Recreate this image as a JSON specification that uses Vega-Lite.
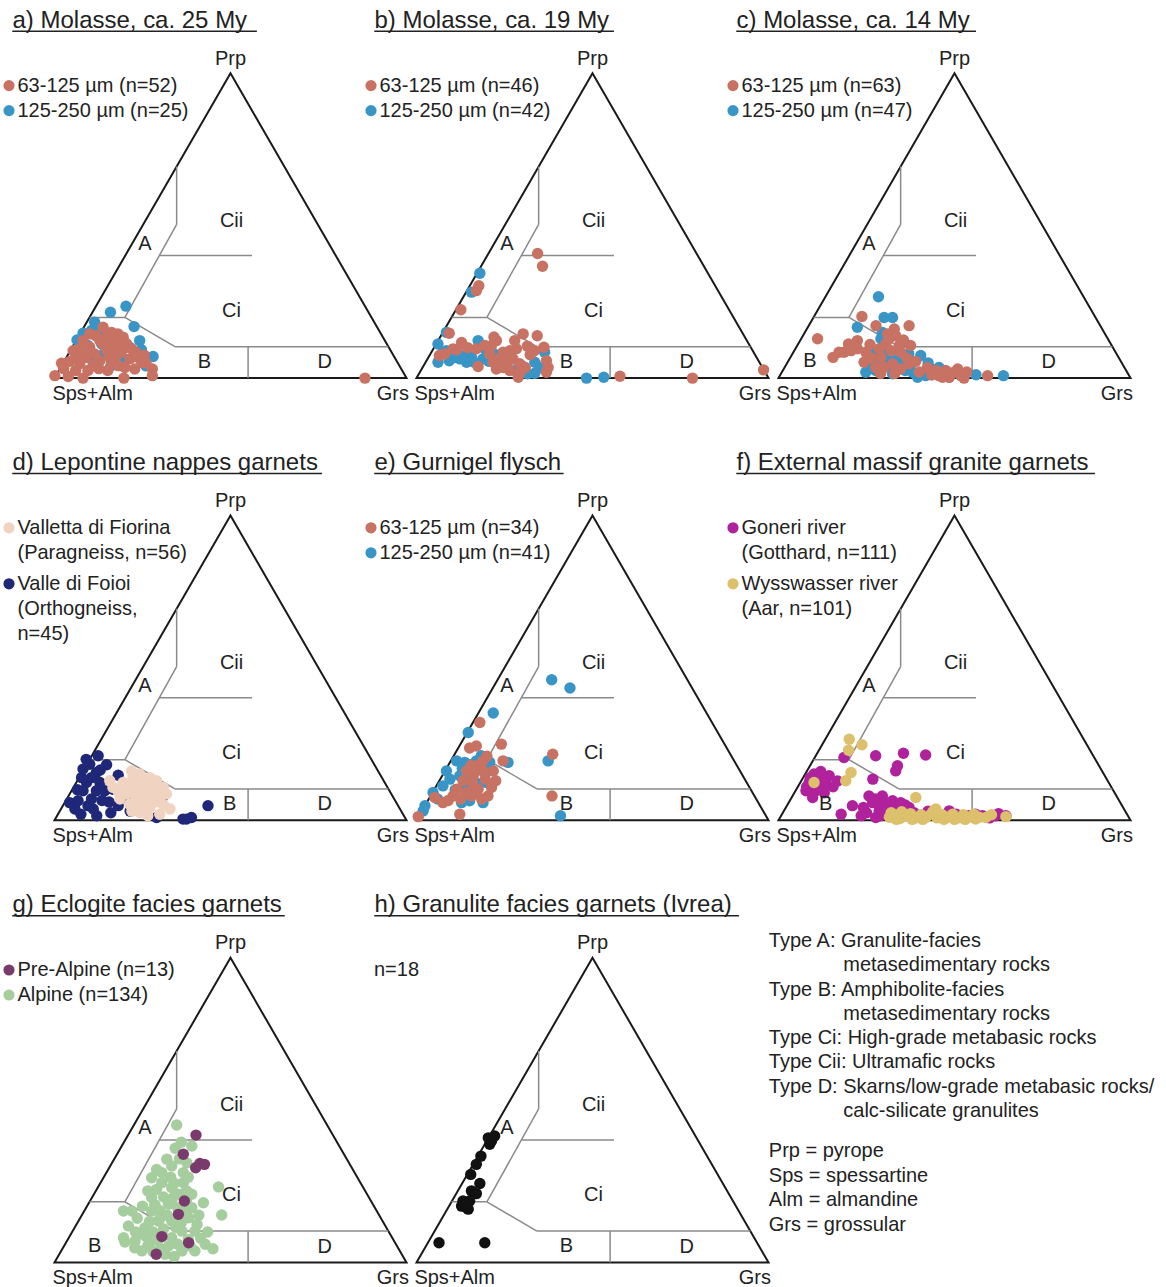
{
  "$schema": "https://vega.github.io/schema/vega-lite/v6.json",
  "padding": {"left": 2.5, "top": 8.3, "right": 2, "bottom": 2},
  "columns": 3,
  "spacing": {"row": 137.2, "column": 10},
  "bounds": "flush",
  "resolve": {"scale": {"color": "independent"}, "legend": {"color": "independent"}},
  "config": {
    "font": "Liberation Sans",
    "view": {"stroke": null},
    "style": {"guide-label": {"lineHeight": 25}},
    "title": {"anchor": "start", "frame": "group", "dx": -42, "offset": -2.4, "fontSize": 24, "fontWeight": "normal", "color": "#222222", "baseline": "alphabetic"},
    "legend": {"labelFontSize": 20, "labelColor": "#222222", "symbolType": "circle", "symbolSize": 125, "symbolStrokeWidth": 0, "symbolOffset": -3.5, "labelOffset": -1.5, "rowPadding": 5, "padding": 0, "labelLimit": 600}
  },
  "datasets": {
    "tri": [{"o": 0, "x": 0, "y": 0}, {"o": 1, "x": 50, "y": 100}, {"o": 2, "x": 100, "y": 0}, {"o": 3, "x": 0, "y": 0}, {"o": 4, "x": 50, "y": 100}],
    "fields": [
      {"x": 34.7, "y": 69.4, "x2": 34.7, "y2": 50.4},
      {"x": 34.7, "y": 50.4, "x2": 20.0, "y2": 19.9},
      {"x": 29.8, "y": 40.2, "x2": 56.1, "y2": 40.2},
      {"x": 9.95, "y": 19.9, "x2": 20.0, "y2": 19.9},
      {"x": 20.0, "y": 19.9, "x2": 34.2, "y2": 10.3},
      {"x": 34.2, "y": 10.3, "x2": 94.85, "y2": 10.3},
      {"x": 55.0, "y": 10.3, "x2": 55.0, "y2": 0}
    ],
    "labels": [
      {"label": "Prp", "x": 50, "y": 104.7},
      {"label": "Sps+Alm", "x": 10.85, "y": -5.2},
      {"label": "Grs", "x": 96.1, "y": -5.2},
      {"label": "A", "x": 25.7, "y": 44.0},
      {"label": "Ci", "x": 50.3, "y": 22.1},
      {"label": "Cii", "x": 50.3, "y": 51.7},
      {"label": "D", "x": 76.8, "y": 5.2}
    ],
    "notes1": [
      {"line": 1, "indent": 0, "text": "Type A: Granulite-facies"},
      {"line": 2, "indent": 1, "text": "metasedimentary rocks"},
      {"line": 3, "indent": 0, "text": "Type B: Amphibolite-facies"},
      {"line": 4, "indent": 1, "text": "metasedimentary rocks"},
      {"line": 5, "indent": 0, "text": "Type Ci: High-grade metabasic rocks"},
      {"line": 6, "indent": 0, "text": "Type Cii: Ultramafic rocks"},
      {"line": 7, "indent": 0, "text": "Type D: Skarns/low-grade metabasic rocks/"},
      {"line": 8, "indent": 1, "text": "calc-silicate granulites"}
    ],
    "notes2": [
      {"line": 1, "indent": 0, "text": "Prp = pyrope"},
      {"line": 2, "indent": 0, "text": "Sps = spessartine"},
      {"line": 3, "indent": 0, "text": "Alm = almandine"},
      {"line": 4, "indent": 0, "text": "Grs = grossular"}
    ],
    "a_pts": [
      {"group": "125-250 µm", "x": 15.9, "y": 21.6}, {"group": "125-250 µm", "x": 20.3, "y": 23.6}, {"group": "125-250 µm", "x": 11.4, "y": 18.3}, {"group": "125-250 µm", "x": 22.6, "y": 16.9}, {"group": "125-250 µm", "x": 8.1, "y": 14.7}, {"group": "125-250 µm", "x": 6.4, "y": 12.5}, {"group": "125-250 µm", "x": 24.2, "y": 12.3}, {"group": "125-250 µm", "x": 24.7, "y": 9.3}, {"group": "125-250 µm", "x": 28.0, "y": 7.1}, {"group": "125-250 µm", "x": 10.5, "y": 15.6}, {"group": "125-250 µm", "x": 13.4, "y": 11.2}, {"group": "125-250 µm", "x": 12.9, "y": 15.6}, {"group": "125-250 µm", "x": 9.5, "y": 10.7}, {"group": "125-250 µm", "x": 18.6, "y": 10.7}, {"group": "125-250 µm", "x": 14.0, "y": 8.0}, {"group": "125-250 µm", "x": 17.0, "y": 12.0}, {"group": "125-250 µm", "x": 11.0, "y": 5.0}, {"group": "125-250 µm", "x": 16.0, "y": 4.0}, {"group": "125-250 µm", "x": 20.0, "y": 6.0}, {"group": "125-250 µm", "x": 9.0, "y": 7.0}, {"group": "125-250 µm", "x": 13.0, "y": 12.5}, {"group": "125-250 µm", "x": 26.0, "y": 4.0}, {"group": "125-250 µm", "x": 7.0, "y": 9.0}, {"group": "125-250 µm", "x": 21.5, "y": 10.0}, {"group": "125-250 µm", "x": 15.0, "y": 14.0},
      {"group": "63-125 µm", "x": 0.1, "y": 0.8}, {"group": "63-125 µm", "x": 3.9, "y": 0.5}, {"group": "63-125 µm", "x": 8.1, "y": 0}, {"group": "63-125 µm", "x": 19.7, "y": 0}, {"group": "63-125 µm", "x": 2.0, "y": 4.9}, {"group": "63-125 µm", "x": 4.3, "y": 5.5}, {"group": "63-125 µm", "x": 5.3, "y": 9.0}, {"group": "63-125 µm", "x": 7.2, "y": 9.6}, {"group": "63-125 µm", "x": 8.1, "y": 12.3}, {"group": "63-125 µm", "x": 9.1, "y": 6.8}, {"group": "63-125 µm", "x": 10.0, "y": 10.1}, {"group": "63-125 µm", "x": 11.4, "y": 7.9}, {"group": "63-125 µm", "x": 12.9, "y": 12.3}, {"group": "63-125 µm", "x": 13.8, "y": 16.7}, {"group": "63-125 µm", "x": 16.2, "y": 15.0}, {"group": "63-125 µm", "x": 14.8, "y": 13.4}, {"group": "63-125 µm", "x": 17.1, "y": 12.3}, {"group": "63-125 µm", "x": 18.1, "y": 11.2}, {"group": "63-125 µm", "x": 19.0, "y": 8.5}, {"group": "63-125 µm", "x": 17.6, "y": 7.4}, {"group": "63-125 µm", "x": 16.2, "y": 5.2}, {"group": "63-125 µm", "x": 18.1, "y": 4.1}, {"group": "63-125 µm", "x": 20.0, "y": 3.5}, {"group": "63-125 µm", "x": 21.4, "y": 6.3}, {"group": "63-125 µm", "x": 22.8, "y": 3.0}, {"group": "63-125 µm", "x": 23.8, "y": 6.8}, {"group": "63-125 µm", "x": 21.9, "y": 9.6}, {"group": "63-125 µm", "x": 27.8, "y": 3.0}, {"group": "63-125 µm", "x": 14.8, "y": 9.0}, {"group": "63-125 µm", "x": 12.9, "y": 5.7}, {"group": "63-125 µm", "x": 11.0, "y": 4.1}, {"group": "63-125 µm", "x": 7.2, "y": 4.7}, {"group": "63-125 µm", "x": 6.3, "y": 7.4}, {"group": "63-125 µm", "x": 10.0, "y": 14.5}, {"group": "63-125 µm", "x": 13.8, "y": 11.2}, {"group": "63-125 µm", "x": 15.7, "y": 6.8}, {"group": "63-125 µm", "x": 19.5, "y": 13.4}, {"group": "63-125 µm", "x": 16.6, "y": 9.6}, {"group": "63-125 µm", "x": 88.2, "y": 0}, {"group": "63-125 µm", "x": 11.7, "y": 13.9}, {"group": "63-125 µm", "x": 15.1, "y": 2.5}, {"group": "63-125 µm", "x": 20.5, "y": 11.3}, {"group": "63-125 µm", "x": 2.6, "y": 3.1}, {"group": "63-125 µm", "x": 9.5, "y": 2.5}, {"group": "63-125 µm", "x": 12.6, "y": 3.1}, {"group": "63-125 µm", "x": 24.8, "y": 5.1}, {"group": "63-125 µm", "x": 18.0, "y": 14.5}, {"group": "63-125 µm", "x": 23.0, "y": 8.5}, {"group": "63-125 µm", "x": 26.0, "y": 5.0}, {"group": "63-125 µm", "x": 6.0, "y": 2.5}, {"group": "63-125 µm", "x": 25.5, "y": 7.5}, {"group": "63-125 µm", "x": 15.5, "y": 11.5}, {"group": "63-125 µm", "x": 27.8, "y": 0.8}
    ],
    "b_pts": [
      {"group": "125-250 µm", "x": 18.0, "y": 34.4}, {"group": "125-250 µm", "x": 15.6, "y": 28.2}, {"group": "125-250 µm", "x": 8.5, "y": 15.0}, {"group": "125-250 µm", "x": 6.1, "y": 11.2}, {"group": "125-250 µm", "x": 6.1, "y": 5.2}, {"group": "125-250 µm", "x": 7.6, "y": 8.5}, {"group": "125-250 µm", "x": 10.9, "y": 6.8}, {"group": "125-250 µm", "x": 13.7, "y": 7.4}, {"group": "125-250 µm", "x": 17.5, "y": 12.3}, {"group": "125-250 µm", "x": 15.6, "y": 6.8}, {"group": "125-250 µm", "x": 18.9, "y": 6.3}, {"group": "125-250 µm", "x": 23.7, "y": 4.7}, {"group": "125-250 µm", "x": 25.6, "y": 3.5}, {"group": "125-250 µm", "x": 33.6, "y": 5.2}, {"group": "125-250 µm", "x": 33.6, "y": 1.6}, {"group": "125-250 µm", "x": 36.4, "y": 8.5}, {"group": "125-250 µm", "x": 48.3, "y": 0}, {"group": "125-250 µm", "x": 53.2, "y": 0.3}, {"group": "125-250 µm", "x": 12.3, "y": 6.3}, {"group": "125-250 µm", "x": 9.3, "y": 5.7}, {"group": "125-250 µm", "x": 8.5, "y": 9.0}, {"group": "125-250 µm", "x": 16.4, "y": 5.2}, {"group": "125-250 µm", "x": 14.2, "y": 5.2}, {"group": "125-250 µm", "x": 27.9, "y": 2.5}, {"group": "125-250 µm", "x": 31.6, "y": 1.4}, {"group": "125-250 µm", "x": 20.5, "y": 5.5}, {"group": "125-250 µm", "x": 11.5, "y": 8.0}, {"group": "125-250 µm", "x": 22.0, "y": 8.0}, {"group": "125-250 µm", "x": 30.0, "y": 4.0}, {"group": "125-250 µm", "x": 26.5, "y": 6.5}, {"group": "125-250 µm", "x": 35.0, "y": 3.5}, {"group": "125-250 µm", "x": 19.5, "y": 9.5},
      {"group": "63-125 µm", "x": 34.4, "y": 40.9}, {"group": "63-125 µm", "x": 35.8, "y": 36.7}, {"group": "63-125 µm", "x": 17.7, "y": 30.3}, {"group": "63-125 µm", "x": 17.0, "y": 28.7}, {"group": "63-125 µm", "x": 12.6, "y": 22.4}, {"group": "63-125 µm", "x": 9.3, "y": 14.7}, {"group": "63-125 µm", "x": 12.8, "y": 11.7}, {"group": "63-125 µm", "x": 10.4, "y": 9.6}, {"group": "63-125 µm", "x": 6.5, "y": 7.4}, {"group": "63-125 µm", "x": 17.0, "y": 9.6}, {"group": "63-125 µm", "x": 22.7, "y": 12.3}, {"group": "63-125 µm", "x": 21.3, "y": 10.7}, {"group": "63-125 µm", "x": 20.8, "y": 7.9}, {"group": "63-125 µm", "x": 21.8, "y": 5.2}, {"group": "63-125 µm", "x": 17.5, "y": 3.8}, {"group": "63-125 µm", "x": 22.7, "y": 3.0}, {"group": "63-125 µm", "x": 26.5, "y": 2.5}, {"group": "63-125 µm", "x": 28.9, "y": 0.3}, {"group": "63-125 µm", "x": 30.3, "y": 14.5}, {"group": "63-125 µm", "x": 27.9, "y": 12.3}, {"group": "63-125 µm", "x": 28.4, "y": 9.6}, {"group": "63-125 µm", "x": 26.5, "y": 9.0}, {"group": "63-125 µm", "x": 27.4, "y": 6.3}, {"group": "63-125 µm", "x": 29.3, "y": 4.7}, {"group": "63-125 µm", "x": 30.9, "y": 3.5}, {"group": "63-125 µm", "x": 32.3, "y": 7.7}, {"group": "63-125 µm", "x": 34.3, "y": 13.9}, {"group": "63-125 µm", "x": 36.2, "y": 10.1}, {"group": "63-125 µm", "x": 36.9, "y": 5.7}, {"group": "63-125 µm", "x": 37.4, "y": 3.5}, {"group": "63-125 µm", "x": 36.9, "y": 1.9}, {"group": "63-125 µm", "x": 24.6, "y": 3.5}, {"group": "63-125 µm", "x": 23.6, "y": 6.3}, {"group": "63-125 µm", "x": 57.8, "y": 0.6}, {"group": "63-125 µm", "x": 78.4, "y": 0}, {"group": "63-125 µm", "x": 98.6, "y": 2.7}, {"group": "63-125 µm", "x": 11.4, "y": 9.3}, {"group": "63-125 µm", "x": 25.9, "y": 5.2}, {"group": "63-125 µm", "x": 29.4, "y": 1.9}, {"group": "63-125 µm", "x": 19.4, "y": 10.7}, {"group": "63-125 µm", "x": 8.0, "y": 7.9}, {"group": "63-125 µm", "x": 24.6, "y": 8.5}, {"group": "63-125 µm", "x": 31.5, "y": 10.5}, {"group": "63-125 µm", "x": 22.0, "y": 13.5}, {"group": "63-125 µm", "x": 33.5, "y": 9.0}, {"group": "63-125 µm", "x": 14.5, "y": 10.0}
    ],
    "c_pts": [
      {"group": "125-250 µm", "x": 28.4, "y": 26.7}, {"group": "125-250 µm", "x": 22.4, "y": 16.7}, {"group": "125-250 µm", "x": 30.0, "y": 19.9}, {"group": "125-250 µm", "x": 32.4, "y": 19.9}, {"group": "125-250 µm", "x": 29.5, "y": 15.0}, {"group": "125-250 µm", "x": 26.7, "y": 8.5}, {"group": "125-250 µm", "x": 24.8, "y": 1.9}, {"group": "125-250 µm", "x": 27.6, "y": 2.5}, {"group": "125-250 µm", "x": 30.5, "y": 4.1}, {"group": "125-250 µm", "x": 32.8, "y": 3.5}, {"group": "125-250 µm", "x": 35.2, "y": 11.7}, {"group": "125-250 µm", "x": 35.7, "y": 5.7}, {"group": "125-250 µm", "x": 38.1, "y": 5.2}, {"group": "125-250 µm", "x": 40.4, "y": 7.4}, {"group": "125-250 µm", "x": 39.5, "y": 0.3}, {"group": "125-250 µm", "x": 41.8, "y": 0.8}, {"group": "125-250 µm", "x": 45.6, "y": 3.5}, {"group": "125-250 µm", "x": 56.1, "y": 1.1}, {"group": "125-250 µm", "x": 63.9, "y": 0.8}, {"group": "125-250 µm", "x": 31.4, "y": 6.8}, {"group": "125-250 µm", "x": 27.6, "y": 5.7}, {"group": "125-250 µm", "x": 29.1, "y": 12.9}, {"group": "125-250 µm", "x": 33.9, "y": 9.0}, {"group": "125-250 µm", "x": 25.7, "y": 3.5}, {"group": "125-250 µm", "x": 43.4, "y": 3.0}, {"group": "125-250 µm", "x": 38.1, "y": 1.9}, {"group": "125-250 µm", "x": 48.5, "y": 0.3}, {"group": "125-250 µm", "x": 32.4, "y": 1.4}, {"group": "125-250 µm", "x": 30.0, "y": 9.5}, {"group": "125-250 µm", "x": 34.0, "y": 6.0}, {"group": "125-250 µm", "x": 37.0, "y": 8.0}, {"group": "125-250 µm", "x": 28.5, "y": 4.0}, {"group": "125-250 µm", "x": 36.0, "y": 2.5}, {"group": "125-250 µm", "x": 42.5, "y": 5.0},
      {"group": "63-125 µm", "x": 11.1, "y": 12.9}, {"group": "63-125 µm", "x": 23.7, "y": 20.2}, {"group": "63-125 µm", "x": 27.7, "y": 17.2}, {"group": "63-125 µm", "x": 37.1, "y": 17.2}, {"group": "63-125 µm", "x": 32.9, "y": 16.1}, {"group": "63-125 µm", "x": 33.3, "y": 13.9}, {"group": "63-125 µm", "x": 31.4, "y": 12.9}, {"group": "63-125 µm", "x": 19.9, "y": 11.2}, {"group": "63-125 µm", "x": 22.4, "y": 12.3}, {"group": "63-125 µm", "x": 18.6, "y": 8.5}, {"group": "63-125 µm", "x": 15.5, "y": 6.8}, {"group": "63-125 µm", "x": 22.4, "y": 9.6}, {"group": "63-125 µm", "x": 24.8, "y": 8.5}, {"group": "63-125 µm", "x": 24.3, "y": 5.2}, {"group": "63-125 µm", "x": 29.1, "y": 6.8}, {"group": "63-125 µm", "x": 32.0, "y": 9.0}, {"group": "63-125 µm", "x": 30.5, "y": 11.2}, {"group": "63-125 µm", "x": 34.3, "y": 10.7}, {"group": "63-125 µm", "x": 34.7, "y": 8.5}, {"group": "63-125 µm", "x": 37.5, "y": 10.7}, {"group": "63-125 µm", "x": 30.0, "y": 3.5}, {"group": "63-125 µm", "x": 34.7, "y": 3.0}, {"group": "63-125 µm", "x": 37.1, "y": 4.7}, {"group": "63-125 µm", "x": 42.3, "y": 3.5}, {"group": "63-125 µm", "x": 45.6, "y": 0.8}, {"group": "63-125 µm", "x": 47.5, "y": 2.5}, {"group": "63-125 µm", "x": 48.5, "y": 0.3}, {"group": "63-125 µm", "x": 50.9, "y": 3.0}, {"group": "63-125 µm", "x": 51.8, "y": 0.8}, {"group": "63-125 µm", "x": 52.7, "y": 0}, {"group": "63-125 µm", "x": 59.4, "y": 0.8}, {"group": "63-125 µm", "x": 32.4, "y": 4.7}, {"group": "63-125 µm", "x": 28.6, "y": 9.6}, {"group": "63-125 µm", "x": 27.6, "y": 3.5}, {"group": "63-125 µm", "x": 20.6, "y": 9.0}, {"group": "63-125 µm", "x": 17.2, "y": 8.5}, {"group": "63-125 µm", "x": 44.7, "y": 2.5}, {"group": "63-125 µm", "x": 46.6, "y": 0.3}, {"group": "63-125 µm", "x": 26.0, "y": 11.0}, {"group": "63-125 µm", "x": 31.0, "y": 14.5}, {"group": "63-125 µm", "x": 35.5, "y": 12.5}, {"group": "63-125 µm", "x": 29.0, "y": 1.5}, {"group": "63-125 µm", "x": 40.0, "y": 2.0}, {"group": "63-125 µm", "x": 43.5, "y": 1.0}, {"group": "63-125 µm", "x": 49.5, "y": 1.8}, {"group": "63-125 µm", "x": 53.5, "y": 2.0}, {"group": "63-125 µm", "x": 33.0, "y": 1.5}, {"group": "63-125 µm", "x": 36.5, "y": 6.5}, {"group": "63-125 µm", "x": 26.5, "y": 6.5}, {"group": "63-125 µm", "x": 39.0, "y": 5.5}
    ],
    "d_pts": [
      {"group": "Valle di Foioi", "x": 12.4, "y": 21.2}, {"group": "Valle di Foioi", "x": 10.0, "y": 18.4}, {"group": "Valle di Foioi", "x": 14.8, "y": 18.2}, {"group": "Valle di Foioi", "x": 8.1, "y": 16.8}, {"group": "Valle di Foioi", "x": 11.9, "y": 15.7}, {"group": "Valle di Foioi", "x": 10.5, "y": 14.0}, {"group": "Valle di Foioi", "x": 12.9, "y": 12.4}, {"group": "Valle di Foioi", "x": 9.1, "y": 12.4}, {"group": "Valle di Foioi", "x": 8.1, "y": 9.7}, {"group": "Valle di Foioi", "x": 11.9, "y": 9.7}, {"group": "Valle di Foioi", "x": 18.1, "y": 14.8}, {"group": "Valle di Foioi", "x": 16.6, "y": 10.2}, {"group": "Valle di Foioi", "x": 4.3, "y": 5.8}, {"group": "Valle di Foioi", "x": 6.7, "y": 6.4}, {"group": "Valle di Foioi", "x": 5.8, "y": 3.7}, {"group": "Valle di Foioi", "x": 9.5, "y": 4.8}, {"group": "Valle di Foioi", "x": 11.0, "y": 3.7}, {"group": "Valle di Foioi", "x": 18.1, "y": 4.8}, {"group": "Valle di Foioi", "x": 20.5, "y": 7.5}, {"group": "Valle di Foioi", "x": 30.9, "y": 8.0}, {"group": "Valle di Foioi", "x": 36.5, "y": 0.4}, {"group": "Valle di Foioi", "x": 38.9, "y": 0.9}, {"group": "Valle di Foioi", "x": 43.6, "y": 4.8}, {"group": "Valle di Foioi", "x": 14.3, "y": 9.7}, {"group": "Valle di Foioi", "x": 7.7, "y": 14.0}, {"group": "Valle di Foioi", "x": 29.0, "y": 0.9}, {"group": "Valle di Foioi", "x": 13.5, "y": 6.5}, {"group": "Valle di Foioi", "x": 10.5, "y": 7.0}, {"group": "Valle di Foioi", "x": 15.5, "y": 6.0}, {"group": "Valle di Foioi", "x": 6.5, "y": 10.0}, {"group": "Valle di Foioi", "x": 9.0, "y": 20.0}, {"group": "Valle di Foioi", "x": 13.0, "y": 16.5}, {"group": "Valle di Foioi", "x": 7.5, "y": 2.0}, {"group": "Valle di Foioi", "x": 16.0, "y": 2.5}, {"group": "Valle di Foioi", "x": 12.0, "y": 1.5}, {"group": "Valle di Foioi", "x": 21.5, "y": 3.0}, {"group": "Valle di Foioi", "x": 37.5, "y": 0.4},
      {"group": "Valletta di Fiorina", "x": 21.9, "y": 16.2}, {"group": "Valletta di Fiorina", "x": 24.2, "y": 15.2}, {"group": "Valletta di Fiorina", "x": 15.7, "y": 13.0}, {"group": "Valletta di Fiorina", "x": 19.5, "y": 12.4}, {"group": "Valletta di Fiorina", "x": 22.3, "y": 11.9}, {"group": "Valletta di Fiorina", "x": 25.2, "y": 12.4}, {"group": "Valletta di Fiorina", "x": 27.1, "y": 11.3}, {"group": "Valletta di Fiorina", "x": 29.0, "y": 13.0}, {"group": "Valletta di Fiorina", "x": 30.9, "y": 10.8}, {"group": "Valletta di Fiorina", "x": 31.8, "y": 8.6}, {"group": "Valletta di Fiorina", "x": 20.5, "y": 8.6}, {"group": "Valletta di Fiorina", "x": 18.6, "y": 7.0}, {"group": "Valletta di Fiorina", "x": 23.3, "y": 8.0}, {"group": "Valletta di Fiorina", "x": 26.1, "y": 8.6}, {"group": "Valletta di Fiorina", "x": 29.0, "y": 8.0}, {"group": "Valletta di Fiorina", "x": 24.2, "y": 4.8}, {"group": "Valletta di Fiorina", "x": 27.1, "y": 4.2}, {"group": "Valletta di Fiorina", "x": 24.2, "y": 2.6}, {"group": "Valletta di Fiorina", "x": 29.9, "y": 2.0}, {"group": "Valletta di Fiorina", "x": 32.8, "y": 3.7}, {"group": "Valletta di Fiorina", "x": 21.4, "y": 5.3}, {"group": "Valletta di Fiorina", "x": 16.6, "y": 10.8}, {"group": "Valletta di Fiorina", "x": 28.0, "y": 5.8}, {"group": "Valletta di Fiorina", "x": 25.2, "y": 6.4}, {"group": "Valletta di Fiorina", "x": 22.3, "y": 14.0}, {"group": "Valletta di Fiorina", "x": 27.1, "y": 14.0}, {"group": "Valletta di Fiorina", "x": 25.6, "y": 10.2}, {"group": "Valletta di Fiorina", "x": 29.0, "y": 10.2}, {"group": "Valletta di Fiorina", "x": 23.3, "y": 10.2}, {"group": "Valletta di Fiorina", "x": 20.5, "y": 10.8}, {"group": "Valletta di Fiorina", "x": 26.5, "y": 1.5}, {"group": "Valletta di Fiorina", "x": 23.0, "y": 6.5}, {"group": "Valletta di Fiorina", "x": 27.5, "y": 7.5}, {"group": "Valletta di Fiorina", "x": 30.0, "y": 6.0}, {"group": "Valletta di Fiorina", "x": 18.0, "y": 9.5}, {"group": "Valletta di Fiorina", "x": 24.5, "y": 13.0}, {"group": "Valletta di Fiorina", "x": 28.0, "y": 12.0}, {"group": "Valletta di Fiorina", "x": 22.0, "y": 3.0}, {"group": "Valletta di Fiorina", "x": 31.0, "y": 5.0}, {"group": "Valletta di Fiorina", "x": 26.0, "y": 3.0}
    ],
    "e_pts": [
      {"group": "125-250 µm", "x": 38.4, "y": 46.1}, {"group": "125-250 µm", "x": 43.6, "y": 43.4}, {"group": "125-250 µm", "x": 21.8, "y": 35.2}, {"group": "125-250 µm", "x": 14.7, "y": 28.8}, {"group": "125-250 µm", "x": 37.4, "y": 19.5}, {"group": "125-250 µm", "x": 26.0, "y": 19.0}, {"group": "125-250 µm", "x": 40.9, "y": 1.5}, {"group": "125-250 µm", "x": 11.4, "y": 19.5}, {"group": "125-250 µm", "x": 8.5, "y": 16.2}, {"group": "125-250 µm", "x": 7.5, "y": 11.3}, {"group": "125-250 µm", "x": 4.7, "y": 9.1}, {"group": "125-250 µm", "x": 2.4, "y": 4.8}, {"group": "125-250 µm", "x": 1.9, "y": 3.1}, {"group": "125-250 µm", "x": 13.7, "y": 19.0}, {"group": "125-250 µm", "x": 17.0, "y": 19.5}, {"group": "125-250 µm", "x": 18.4, "y": 21.2}, {"group": "125-250 µm", "x": 20.3, "y": 16.2}, {"group": "125-250 µm", "x": 12.3, "y": 14.6}, {"group": "125-250 µm", "x": 14.2, "y": 10.8}, {"group": "125-250 µm", "x": 15.1, "y": 6.4}, {"group": "125-250 µm", "x": 12.8, "y": 5.8}, {"group": "125-250 µm", "x": 18.9, "y": 5.8}, {"group": "125-250 µm", "x": 9.5, "y": 13.5}, {"group": "125-250 µm", "x": 20.8, "y": 19.0}, {"group": "125-250 µm", "x": 15.0, "y": 15.0}, {"group": "125-250 µm", "x": 17.5, "y": 12.0}, {"group": "125-250 µm", "x": 11.0, "y": 10.0}, {"group": "125-250 µm", "x": 16.0, "y": 9.0}, {"group": "125-250 µm", "x": 19.5, "y": 12.5}, {"group": "125-250 µm", "x": 13.0, "y": 17.0}, {"group": "125-250 µm", "x": 6.0, "y": 7.0},
      {"group": "63-125 µm", "x": 18.0, "y": 32.1}, {"group": "63-125 µm", "x": 24.1, "y": 25.0}, {"group": "63-125 µm", "x": 15.1, "y": 23.7}, {"group": "63-125 µm", "x": 17.0, "y": 24.4}, {"group": "63-125 µm", "x": 38.7, "y": 21.7}, {"group": "63-125 µm", "x": 24.6, "y": 19.5}, {"group": "63-125 µm", "x": 38.5, "y": 8.0}, {"group": "63-125 µm", "x": 12.3, "y": 2.0}, {"group": "63-125 µm", "x": 0.5, "y": 1.2}, {"group": "63-125 µm", "x": 18.0, "y": 18.4}, {"group": "63-125 µm", "x": 18.9, "y": 16.2}, {"group": "63-125 µm", "x": 16.1, "y": 14.6}, {"group": "63-125 µm", "x": 13.2, "y": 13.0}, {"group": "63-125 µm", "x": 11.4, "y": 10.2}, {"group": "63-125 µm", "x": 14.2, "y": 9.1}, {"group": "63-125 µm", "x": 17.5, "y": 10.2}, {"group": "63-125 µm", "x": 21.3, "y": 10.8}, {"group": "63-125 µm", "x": 20.3, "y": 8.0}, {"group": "63-125 µm", "x": 7.5, "y": 5.8}, {"group": "63-125 µm", "x": 5.2, "y": 7.5}, {"group": "63-125 µm", "x": 15.6, "y": 8.0}, {"group": "63-125 µm", "x": 10.4, "y": 8.0}, {"group": "63-125 µm", "x": 17.0, "y": 16.2}, {"group": "63-125 µm", "x": 18.9, "y": 19.5}, {"group": "63-125 µm", "x": 21.8, "y": 16.2}, {"group": "63-125 µm", "x": 14.2, "y": 16.2}, {"group": "63-125 µm", "x": 19.5, "y": 13.5}, {"group": "63-125 µm", "x": 16.0, "y": 12.0}, {"group": "63-125 µm", "x": 12.5, "y": 7.0}, {"group": "63-125 µm", "x": 18.5, "y": 7.0}, {"group": "63-125 µm", "x": 9.0, "y": 6.5}, {"group": "63-125 µm", "x": 22.5, "y": 13.0}, {"group": "63-125 µm", "x": 15.5, "y": 18.0}, {"group": "63-125 µm", "x": 20.0, "y": 21.0}
    ],
    "f_pts": [
      {"group": "Goneri river", "x": 27.6, "y": 21.2}, {"group": "Goneri river", "x": 35.5, "y": 22.0}, {"group": "Goneri river", "x": 41.8, "y": 21.4}, {"group": "Goneri river", "x": 33.8, "y": 17.9}, {"group": "Goneri river", "x": 33.3, "y": 16.2}, {"group": "Goneri river", "x": 18.6, "y": 20.6}, {"group": "Goneri river", "x": 26.8, "y": 13.5}, {"group": "Goneri river", "x": 10.1, "y": 15.2}, {"group": "Goneri river", "x": 8.7, "y": 12.4}, {"group": "Goneri river", "x": 11.5, "y": 13.5}, {"group": "Goneri river", "x": 14.4, "y": 14.6}, {"group": "Goneri river", "x": 16.8, "y": 12.9}, {"group": "Goneri river", "x": 7.8, "y": 9.7}, {"group": "Goneri river", "x": 10.6, "y": 9.7}, {"group": "Goneri river", "x": 12.5, "y": 10.8}, {"group": "Goneri river", "x": 21.0, "y": 4.8}, {"group": "Goneri river", "x": 17.8, "y": 2.0}, {"group": "Goneri river", "x": 23.5, "y": 1.5}, {"group": "Goneri river", "x": 25.7, "y": 8.0}, {"group": "Goneri river", "x": 26.7, "y": 5.8}, {"group": "Goneri river", "x": 28.6, "y": 6.4}, {"group": "Goneri river", "x": 30.5, "y": 5.8}, {"group": "Goneri river", "x": 32.4, "y": 6.4}, {"group": "Goneri river", "x": 34.7, "y": 5.8}, {"group": "Goneri river", "x": 28.6, "y": 3.1}, {"group": "Goneri river", "x": 31.4, "y": 3.7}, {"group": "Goneri river", "x": 35.2, "y": 3.7}, {"group": "Goneri river", "x": 48.5, "y": 3.1}, {"group": "Goneri river", "x": 58.0, "y": 1.5}, {"group": "Goneri river", "x": 61.7, "y": 1.5}, {"group": "Goneri river", "x": 64.6, "y": 1.5}, {"group": "Goneri river", "x": 27.6, "y": 0.9}, {"group": "Goneri river", "x": 37.1, "y": 4.2}, {"group": "Goneri river", "x": 41.4, "y": 1.5}, {"group": "Goneri river", "x": 54.1, "y": 1.5}, {"group": "Goneri river", "x": 24.1, "y": 4.2}, {"group": "Goneri river", "x": 9.7, "y": 7.5}, {"group": "Goneri river", "x": 13.4, "y": 12.4}, {"group": "Goneri river", "x": 9.0, "y": 14.0}, {"group": "Goneri river", "x": 12.0, "y": 16.0}, {"group": "Goneri river", "x": 11.0, "y": 11.5}, {"group": "Goneri river", "x": 13.0, "y": 9.0}, {"group": "Goneri river", "x": 15.5, "y": 11.0}, {"group": "Goneri river", "x": 8.0, "y": 11.0}, {"group": "Goneri river", "x": 29.5, "y": 8.0}, {"group": "Goneri river", "x": 27.5, "y": 7.0}, {"group": "Goneri river", "x": 31.5, "y": 4.5}, {"group": "Goneri river", "x": 33.5, "y": 4.0}, {"group": "Goneri river", "x": 36.0, "y": 5.0}, {"group": "Goneri river", "x": 29.0, "y": 1.5}, {"group": "Goneri river", "x": 33.0, "y": 1.0}, {"group": "Goneri river", "x": 38.5, "y": 2.5}, {"group": "Goneri river", "x": 44.0, "y": 2.0}, {"group": "Goneri river", "x": 46.0, "y": 1.0}, {"group": "Goneri river", "x": 50.5, "y": 2.0}, {"group": "Goneri river", "x": 52.0, "y": 1.0}, {"group": "Goneri river", "x": 56.0, "y": 2.0}, {"group": "Goneri river", "x": 60.0, "y": 0.8}, {"group": "Goneri river", "x": 62.5, "y": 2.2}, {"group": "Goneri river", "x": 39.5, "y": 1.0}, {"group": "Goneri river", "x": 42.5, "y": 3.0}, {"group": "Goneri river", "x": 30.0, "y": 2.0}, {"group": "Goneri river", "x": 25.0, "y": 2.5},
      {"group": "Wysswasser river", "x": 20.1, "y": 26.6}, {"group": "Wysswasser river", "x": 23.7, "y": 24.8}, {"group": "Wysswasser river", "x": 19.9, "y": 23.0}, {"group": "Wysswasser river", "x": 20.6, "y": 15.7}, {"group": "Wysswasser river", "x": 19.1, "y": 13.0}, {"group": "Wysswasser river", "x": 10.1, "y": 12.4}, {"group": "Wysswasser river", "x": 39.0, "y": 7.5}, {"group": "Wysswasser river", "x": 44.7, "y": 3.7}, {"group": "Wysswasser river", "x": 31.5, "y": 1.0}, {"group": "Wysswasser river", "x": 33.0, "y": 1.8}, {"group": "Wysswasser river", "x": 34.5, "y": 0.6}, {"group": "Wysswasser river", "x": 36.0, "y": 1.5}, {"group": "Wysswasser river", "x": 37.5, "y": 2.2}, {"group": "Wysswasser river", "x": 39.0, "y": 0.8}, {"group": "Wysswasser river", "x": 40.5, "y": 1.8}, {"group": "Wysswasser river", "x": 42.0, "y": 1.0}, {"group": "Wysswasser river", "x": 43.5, "y": 2.2}, {"group": "Wysswasser river", "x": 45.0, "y": 0.8}, {"group": "Wysswasser river", "x": 46.5, "y": 1.8}, {"group": "Wysswasser river", "x": 48.0, "y": 1.0}, {"group": "Wysswasser river", "x": 49.5, "y": 2.0}, {"group": "Wysswasser river", "x": 51.0, "y": 0.8}, {"group": "Wysswasser river", "x": 52.5, "y": 1.8}, {"group": "Wysswasser river", "x": 54.0, "y": 1.0}, {"group": "Wysswasser river", "x": 55.5, "y": 2.0}, {"group": "Wysswasser river", "x": 57.0, "y": 1.0}, {"group": "Wysswasser river", "x": 58.9, "y": 0.9}, {"group": "Wysswasser river", "x": 60.5, "y": 1.8}, {"group": "Wysswasser river", "x": 64.6, "y": 1.2}, {"group": "Wysswasser river", "x": 33.5, "y": 0.3}, {"group": "Wysswasser river", "x": 38.0, "y": 0.3}, {"group": "Wysswasser river", "x": 41.0, "y": 0.3}, {"group": "Wysswasser river", "x": 47.0, "y": 0.3}, {"group": "Wysswasser river", "x": 50.0, "y": 0.3}, {"group": "Wysswasser river", "x": 53.0, "y": 0.3}, {"group": "Wysswasser river", "x": 56.0, "y": 0.4}, {"group": "Wysswasser river", "x": 35.0, "y": 2.8}, {"group": "Wysswasser river", "x": 44.0, "y": 3.0}, {"group": "Wysswasser river", "x": 32.0, "y": 2.5}
    ],
    "g_pts": [
      {"group": "Alpine", "x": 34.7, "y": 45.1}, {"group": "Alpine", "x": 39.0, "y": 38.2}, {"group": "Alpine", "x": 34.3, "y": 37.5}, {"group": "Alpine", "x": 37.6, "y": 32.7}, {"group": "Alpine", "x": 33.3, "y": 31.7}, {"group": "Alpine", "x": 30.5, "y": 29.5}, {"group": "Alpine", "x": 36.6, "y": 29.5}, {"group": "Alpine", "x": 46.6, "y": 24.8}, {"group": "Alpine", "x": 42.3, "y": 19.6}, {"group": "Alpine", "x": 47.5, "y": 15.6}, {"group": "Alpine", "x": 19.6, "y": 16.9}, {"group": "Alpine", "x": 22.0, "y": 16.9}, {"group": "Alpine", "x": 27.6, "y": 21.3}, {"group": "Alpine", "x": 30.5, "y": 26.2}, {"group": "Alpine", "x": 33.3, "y": 24.5}, {"group": "Alpine", "x": 36.6, "y": 26.2}, {"group": "Alpine", "x": 39.0, "y": 22.4}, {"group": "Alpine", "x": 32.4, "y": 19.1}, {"group": "Alpine", "x": 27.6, "y": 16.9}, {"group": "Alpine", "x": 29.5, "y": 13.6}, {"group": "Alpine", "x": 33.3, "y": 13.6}, {"group": "Alpine", "x": 38.1, "y": 14.7}, {"group": "Alpine", "x": 25.7, "y": 11.4}, {"group": "Alpine", "x": 19.6, "y": 8.1}, {"group": "Alpine", "x": 22.9, "y": 7.1}, {"group": "Alpine", "x": 27.2, "y": 6.5}, {"group": "Alpine", "x": 33.3, "y": 8.1}, {"group": "Alpine", "x": 36.2, "y": 10.3}, {"group": "Alpine", "x": 39.9, "y": 10.3}, {"group": "Alpine", "x": 42.8, "y": 6.0}, {"group": "Alpine", "x": 32.4, "y": 5.4}, {"group": "Alpine", "x": 24.8, "y": 3.8}, {"group": "Alpine", "x": 31.4, "y": 2.7}, {"group": "Alpine", "x": 36.2, "y": 3.8}, {"group": "Alpine", "x": 39.9, "y": 3.8}, {"group": "Alpine", "x": 27.6, "y": 27.8}, {"group": "Alpine", "x": 39.0, "y": 18.0}, {"group": "Alpine", "x": 35.2, "y": 22.4}, {"group": "Alpine", "x": 31.9, "y": 33.9}, {"group": "Alpine", "x": 20.0, "y": 6.7}, {"group": "Alpine", "x": 22.8, "y": 4.8}, {"group": "Alpine", "x": 29.0, "y": 24.0}, {"group": "Alpine", "x": 31.0, "y": 21.5}, {"group": "Alpine", "x": 35.0, "y": 18.0}, {"group": "Alpine", "x": 37.5, "y": 20.0}, {"group": "Alpine", "x": 30.0, "y": 17.0}, {"group": "Alpine", "x": 28.0, "y": 10.0}, {"group": "Alpine", "x": 31.0, "y": 11.0}, {"group": "Alpine", "x": 34.5, "y": 11.5}, {"group": "Alpine", "x": 26.0, "y": 8.5}, {"group": "Alpine", "x": 29.5, "y": 7.5}, {"group": "Alpine", "x": 35.0, "y": 6.0}, {"group": "Alpine", "x": 38.0, "y": 7.5}, {"group": "Alpine", "x": 24.0, "y": 9.5}, {"group": "Alpine", "x": 28.0, "y": 3.5}, {"group": "Alpine", "x": 34.0, "y": 2.0}, {"group": "Alpine", "x": 41.5, "y": 8.0}, {"group": "Alpine", "x": 37.0, "y": 16.5}, {"group": "Alpine", "x": 33.0, "y": 28.0}, {"group": "Alpine", "x": 35.5, "y": 34.0}, {"group": "Alpine", "x": 38.0, "y": 28.0}, {"group": "Alpine", "x": 27.0, "y": 13.5}, {"group": "Alpine", "x": 45.0, "y": 4.5}, {"group": "Alpine", "x": 30.0, "y": 14.5}, {"group": "Alpine", "x": 21.0, "y": 12.0}, {"group": "Alpine", "x": 23.5, "y": 14.5}, {"group": "Alpine", "x": 25.0, "y": 18.5}, {"group": "Alpine", "x": 26.5, "y": 23.5}, {"group": "Alpine", "x": 28.5, "y": 19.0}, {"group": "Alpine", "x": 30.5, "y": 9.0}, {"group": "Alpine", "x": 32.0, "y": 15.5}, {"group": "Alpine", "x": 33.5, "y": 21.0}, {"group": "Alpine", "x": 36.0, "y": 13.0}, {"group": "Alpine", "x": 37.5, "y": 23.5}, {"group": "Alpine", "x": 40.5, "y": 12.5}, {"group": "Alpine", "x": 43.5, "y": 10.0}, {"group": "Alpine", "x": 26.5, "y": 5.5}, {"group": "Alpine", "x": 30.0, "y": 4.5}, {"group": "Alpine", "x": 38.5, "y": 5.5}, {"group": "Alpine", "x": 41.0, "y": 15.5}, {"group": "Alpine", "x": 23.0, "y": 10.0}, {"group": "Alpine", "x": 29.0, "y": 30.5}, {"group": "Alpine", "x": 34.0, "y": 26.0}, {"group": "Alpine", "x": 36.0, "y": 39.5},
      {"group": "Pre-Alpine", "x": 40.2, "y": 41.8}, {"group": "Pre-Alpine", "x": 36.6, "y": 35.5}, {"group": "Pre-Alpine", "x": 40.1, "y": 31.1}, {"group": "Pre-Alpine", "x": 42.6, "y": 32.2}, {"group": "Pre-Alpine", "x": 41.3, "y": 32.5}, {"group": "Pre-Alpine", "x": 36.9, "y": 20.2}, {"group": "Pre-Alpine", "x": 35.2, "y": 15.8}, {"group": "Pre-Alpine", "x": 30.5, "y": 8.5}, {"group": "Pre-Alpine", "x": 28.9, "y": 2.7}, {"group": "Pre-Alpine", "x": 38.1, "y": 6.5}
    ],
    "h_pts": [
      {"group": "Ivrea", "x": 22.2, "y": 41.5}, {"group": "Ivrea", "x": 21.3, "y": 39.9}, {"group": "Ivrea", "x": 20.8, "y": 38.8}, {"group": "Ivrea", "x": 18.3, "y": 34.9}, {"group": "Ivrea", "x": 17.0, "y": 32.2}, {"group": "Ivrea", "x": 15.4, "y": 28.9}, {"group": "Ivrea", "x": 18.0, "y": 25.9}, {"group": "Ivrea", "x": 15.6, "y": 23.5}, {"group": "Ivrea", "x": 17.0, "y": 22.6}, {"group": "Ivrea", "x": 13.2, "y": 20.2}, {"group": "Ivrea", "x": 15.1, "y": 20.2}, {"group": "Ivrea", "x": 12.8, "y": 18.5}, {"group": "Ivrea", "x": 14.2, "y": 18.0}, {"group": "Ivrea", "x": 14.7, "y": 17.5}, {"group": "Ivrea", "x": 6.4, "y": 6.5}, {"group": "Ivrea", "x": 19.4, "y": 6.5}, {"group": "Ivrea", "x": 20.4, "y": 40.9}, {"group": "Ivrea", "x": 13.8, "y": 19.5}
    ]
  },
  "concat": [
    {
      "title": "a) Molasse, ca. 25 My",
      "width": 352, "height": 304.8,
      "encoding": {
        "x": {"field": "x", "type": "quantitative", "scale": {"domain": [0, 100], "nice": false, "zero": false}, "axis": null},
        "y": {"field": "y", "type": "quantitative", "scale": {"domain": [0, 100], "nice": false, "zero": false}, "axis": null}
      },
      "layer": [
        {"data": {"name": "tri"}, "mark": {"type": "line", "color": "#1a1a1a", "strokeWidth": 2, "strokeJoin": "miter"}, "encoding": {"order": {"field": "o", "type": "quantitative"}}},
        {"data": {"name": "fields"}, "mark": {"type": "rule", "color": "#8a8a8a", "strokeWidth": 1.5}, "encoding": {"x2": {"field": "x2"}, "y2": {"field": "y2"}}},
        {"data": {"name": "a_pts"}, "mark": {"type": "circle", "size": 130, "opacity": 1}, "encoding": {"color": {"field": "group", "type": "nominal", "scale": {"domain": ["63-125 µm", "125-250 µm"], "range": ["#c87264", "#3a95c7"]}, "legend": {"title": null, "orient": "none", "legendX": -52, "legendY": 2.3, "labelExpr": "datum.label == '63-125 µm' ? '63-125 µm (n=52)' : '125-250 µm (n=25)'"}}}},
        {"data": {"name": "labels"}, "mark": {"type": "text", "fontSize": 20, "color": "#222222"}, "encoding": {"text": {"field": "label"}}},
        {"data": {"values": [{"label": "B", "x": 42.6, "y": 5.2}]}, "mark": {"type": "text", "fontSize": 20, "color": "#222222"}, "encoding": {"text": {"field": "label"}}},
        {"data": {"values": [{"x": -12, "x2": 57.5, "y": 113.8}]}, "mark": {"type": "rule", "color": "#222222", "strokeWidth": 1.5}, "encoding": {"x2": {"field": "x2"}}}
      ]
    },
    {
      "title": "b) Molasse, ca. 19 My",
      "width": 352, "height": 304.8,
      "encoding": {
        "x": {"field": "x", "type": "quantitative", "scale": {"domain": [0, 100], "nice": false, "zero": false}, "axis": null},
        "y": {"field": "y", "type": "quantitative", "scale": {"domain": [0, 100], "nice": false, "zero": false}, "axis": null}
      },
      "layer": [
        {"data": {"name": "tri"}, "mark": {"type": "line", "color": "#1a1a1a", "strokeWidth": 2, "strokeJoin": "miter"}, "encoding": {"order": {"field": "o", "type": "quantitative"}}},
        {"data": {"name": "fields"}, "mark": {"type": "rule", "color": "#8a8a8a", "strokeWidth": 1.5}, "encoding": {"x2": {"field": "x2"}, "y2": {"field": "y2"}}},
        {"data": {"name": "b_pts"}, "mark": {"type": "circle", "size": 130, "opacity": 1}, "encoding": {"color": {"field": "group", "type": "nominal", "scale": {"domain": ["63-125 µm", "125-250 µm"], "range": ["#c87264", "#3a95c7"]}, "legend": {"title": null, "orient": "none", "legendX": -52, "legendY": 2.3, "labelExpr": "datum.label == '63-125 µm' ? '63-125 µm (n=46)' : '125-250 µm (n=42)'"}}}},
        {"data": {"name": "labels"}, "mark": {"type": "text", "fontSize": 20, "color": "#222222"}, "encoding": {"text": {"field": "label"}}},
        {"data": {"values": [{"label": "B", "x": 42.6, "y": 5.2}]}, "mark": {"type": "text", "fontSize": 20, "color": "#222222"}, "encoding": {"text": {"field": "label"}}},
        {"data": {"values": [{"x": -12, "x2": 56.1, "y": 113.8}]}, "mark": {"type": "rule", "color": "#222222", "strokeWidth": 1.5}, "encoding": {"x2": {"field": "x2"}}}
      ]
    },
    {
      "title": "c) Molasse, ca. 14 My",
      "width": 352, "height": 304.8,
      "encoding": {
        "x": {"field": "x", "type": "quantitative", "scale": {"domain": [0, 100], "nice": false, "zero": false}, "axis": null},
        "y": {"field": "y", "type": "quantitative", "scale": {"domain": [0, 100], "nice": false, "zero": false}, "axis": null}
      },
      "layer": [
        {"data": {"name": "tri"}, "mark": {"type": "line", "color": "#1a1a1a", "strokeWidth": 2, "strokeJoin": "miter"}, "encoding": {"order": {"field": "o", "type": "quantitative"}}},
        {"data": {"name": "fields"}, "mark": {"type": "rule", "color": "#8a8a8a", "strokeWidth": 1.5}, "encoding": {"x2": {"field": "x2"}, "y2": {"field": "y2"}}},
        {"data": {"name": "c_pts"}, "mark": {"type": "circle", "size": 130, "opacity": 1}, "encoding": {"color": {"field": "group", "type": "nominal", "scale": {"domain": ["63-125 µm", "125-250 µm"], "range": ["#c87264", "#3a95c7"]}, "legend": {"title": null, "orient": "none", "legendX": -52, "legendY": 2.3, "labelExpr": "datum.label == '63-125 µm' ? '63-125 µm (n=63)' : '125-250 µm (n=47)'"}}}},
        {"data": {"name": "labels"}, "mark": {"type": "text", "fontSize": 20, "color": "#222222"}, "encoding": {"text": {"field": "label"}}},
        {"data": {"values": [{"label": "B", "x": 8.9, "y": 5.7}]}, "mark": {"type": "text", "fontSize": 20, "color": "#222222"}, "encoding": {"text": {"field": "label"}}},
        {"data": {"values": [{"x": -12, "x2": 56.1, "y": 113.8}]}, "mark": {"type": "rule", "color": "#222222", "strokeWidth": 1.5}, "encoding": {"x2": {"field": "x2"}}}
      ]
    },
    {
      "title": "d) Lepontine nappes garnets",
      "width": 352, "height": 304.8,
      "encoding": {
        "x": {"field": "x", "type": "quantitative", "scale": {"domain": [0, 100], "nice": false, "zero": false}, "axis": null},
        "y": {"field": "y", "type": "quantitative", "scale": {"domain": [0, 100], "nice": false, "zero": false}, "axis": null}
      },
      "layer": [
        {"data": {"name": "tri"}, "mark": {"type": "line", "color": "#1a1a1a", "strokeWidth": 2, "strokeJoin": "miter"}, "encoding": {"order": {"field": "o", "type": "quantitative"}}},
        {"data": {"name": "fields"}, "mark": {"type": "rule", "color": "#8a8a8a", "strokeWidth": 1.5}, "encoding": {"x2": {"field": "x2"}, "y2": {"field": "y2"}}},
        {"data": {"name": "d_pts"}, "mark": {"type": "circle", "size": 130, "opacity": 1}, "encoding": {"color": {"field": "group", "type": "nominal", "scale": {"domain": ["Valletta di Fiorina", "Valle di Foioi"], "range": ["#f0d3c0", "#1f2878"]}, "legend": {"title": null, "orient": "none", "legendX": -52, "legendY": 2.3, "rowPadding": 11, "labelExpr": "datum.label == 'Valletta di Fiorina' ? ['Valletta di Fiorina', '(Paragneiss, n=56)'] : ['Valle di Foioi', '(Orthogneiss,', 'n=45)']", "encode": {"labels": {"update": {"lineHeight": {"value": 25}}}}}}}},
        {"data": {"name": "labels"}, "mark": {"type": "text", "fontSize": 20, "color": "#222222"}, "encoding": {"text": {"field": "label"}}},
        {"data": {"values": [{"label": "B", "x": 49.8, "y": 5.4}]}, "mark": {"type": "text", "fontSize": 20, "color": "#222222"}, "encoding": {"text": {"field": "label"}}},
        {"data": {"values": [{"x": -12, "x2": 76.0, "y": 113.8}]}, "mark": {"type": "rule", "color": "#222222", "strokeWidth": 1.5}, "encoding": {"x2": {"field": "x2"}}}
      ]
    },
    {
      "title": "e) Gurnigel flysch",
      "width": 352, "height": 304.8,
      "encoding": {
        "x": {"field": "x", "type": "quantitative", "scale": {"domain": [0, 100], "nice": false, "zero": false}, "axis": null},
        "y": {"field": "y", "type": "quantitative", "scale": {"domain": [0, 100], "nice": false, "zero": false}, "axis": null}
      },
      "layer": [
        {"data": {"name": "tri"}, "mark": {"type": "line", "color": "#1a1a1a", "strokeWidth": 2, "strokeJoin": "miter"}, "encoding": {"order": {"field": "o", "type": "quantitative"}}},
        {"data": {"name": "fields"}, "mark": {"type": "rule", "color": "#8a8a8a", "strokeWidth": 1.5}, "encoding": {"x2": {"field": "x2"}, "y2": {"field": "y2"}}},
        {"data": {"name": "e_pts"}, "mark": {"type": "circle", "size": 130, "opacity": 1}, "encoding": {"color": {"field": "group", "type": "nominal", "scale": {"domain": ["63-125 µm", "125-250 µm"], "range": ["#c87264", "#3a95c7"]}, "legend": {"title": null, "orient": "none", "legendX": -52, "legendY": 2.3, "labelExpr": "datum.label == '63-125 µm' ? '63-125 µm (n=34)' : '125-250 µm (n=41)'"}}}},
        {"data": {"name": "labels"}, "mark": {"type": "text", "fontSize": 20, "color": "#222222"}, "encoding": {"text": {"field": "label"}}},
        {"data": {"values": [{"label": "B", "x": 42.6, "y": 5.4}]}, "mark": {"type": "text", "fontSize": 20, "color": "#222222"}, "encoding": {"text": {"field": "label"}}},
        {"data": {"values": [{"x": -12, "x2": 41.8, "y": 113.8}]}, "mark": {"type": "rule", "color": "#222222", "strokeWidth": 1.5}, "encoding": {"x2": {"field": "x2"}}}
      ]
    },
    {
      "title": "f) External massif granite garnets",
      "width": 352, "height": 304.8,
      "encoding": {
        "x": {"field": "x", "type": "quantitative", "scale": {"domain": [0, 100], "nice": false, "zero": false}, "axis": null},
        "y": {"field": "y", "type": "quantitative", "scale": {"domain": [0, 100], "nice": false, "zero": false}, "axis": null}
      },
      "layer": [
        {"data": {"name": "tri"}, "mark": {"type": "line", "color": "#1a1a1a", "strokeWidth": 2, "strokeJoin": "miter"}, "encoding": {"order": {"field": "o", "type": "quantitative"}}},
        {"data": {"name": "fields"}, "mark": {"type": "rule", "color": "#8a8a8a", "strokeWidth": 1.5}, "encoding": {"x2": {"field": "x2"}, "y2": {"field": "y2"}}},
        {"data": {"name": "f_pts"}, "mark": {"type": "circle", "size": 130, "opacity": 1}, "encoding": {"color": {"field": "group", "type": "nominal", "scale": {"domain": ["Goneri river", "Wysswasser river"], "range": ["#b0229c", "#dcc06c"]}, "legend": {"title": null, "orient": "none", "legendX": -52, "legendY": 2.3, "rowPadding": 11, "labelExpr": "datum.label == 'Goneri river' ? ['Goneri river', '(Gotthard, n=111)'] : ['Wysswasser river', '(Aar, n=101)']", "encode": {"labels": {"update": {"lineHeight": {"value": 25}}}}}}}},
        {"data": {"name": "labels"}, "mark": {"type": "text", "fontSize": 20, "color": "#222222"}, "encoding": {"text": {"field": "label"}}},
        {"data": {"values": [{"label": "B", "x": 13.4, "y": 5.4}]}, "mark": {"type": "text", "fontSize": 20, "color": "#222222"}, "encoding": {"text": {"field": "label"}}},
        {"data": {"values": [{"x": -12, "x2": 89.9, "y": 113.8}]}, "mark": {"type": "rule", "color": "#222222", "strokeWidth": 1.5}, "encoding": {"x2": {"field": "x2"}}}
      ]
    },
    {
      "title": "g) Eclogite facies garnets",
      "width": 352, "height": 304.8,
      "encoding": {
        "x": {"field": "x", "type": "quantitative", "scale": {"domain": [0, 100], "nice": false, "zero": false}, "axis": null},
        "y": {"field": "y", "type": "quantitative", "scale": {"domain": [0, 100], "nice": false, "zero": false}, "axis": null}
      },
      "layer": [
        {"data": {"name": "tri"}, "mark": {"type": "line", "color": "#1a1a1a", "strokeWidth": 2, "strokeJoin": "miter"}, "encoding": {"order": {"field": "o", "type": "quantitative"}}},
        {"data": {"name": "fields"}, "mark": {"type": "rule", "color": "#8a8a8a", "strokeWidth": 1.5}, "encoding": {"x2": {"field": "x2"}, "y2": {"field": "y2"}}},
        {"data": {"name": "g_pts"}, "mark": {"type": "circle", "size": 130, "opacity": 1}, "encoding": {"color": {"field": "group", "type": "nominal", "scale": {"domain": ["Pre-Alpine", "Alpine"], "range": ["#7a3b6c", "#a5cd9d"]}, "legend": {"title": null, "orient": "none", "legendX": -52, "legendY": 2.3, "labelExpr": "datum.label == 'Pre-Alpine' ? 'Pre-Alpine (n=13)' : 'Alpine (n=134)'"}}}},
        {"data": {"name": "labels"}, "mark": {"type": "text", "fontSize": 20, "color": "#222222"}, "encoding": {"text": {"field": "label"}}},
        {"data": {"values": [{"label": "B", "x": 11.4, "y": 5.4}]}, "mark": {"type": "text", "fontSize": 20, "color": "#222222"}, "encoding": {"text": {"field": "label"}}},
        {"data": {"values": [{"x": -12, "x2": 65.4, "y": 113.8}]}, "mark": {"type": "rule", "color": "#222222", "strokeWidth": 1.5}, "encoding": {"x2": {"field": "x2"}}}
      ]
    },
    {
      "title": "h) Granulite facies garnets (Ivrea)",
      "width": 352, "height": 304.8,
      "encoding": {
        "x": {"field": "x", "type": "quantitative", "scale": {"domain": [0, 100], "nice": false, "zero": false}, "axis": null},
        "y": {"field": "y", "type": "quantitative", "scale": {"domain": [0, 100], "nice": false, "zero": false}, "axis": null}
      },
      "layer": [
        {"data": {"name": "tri"}, "mark": {"type": "line", "color": "#1a1a1a", "strokeWidth": 2, "strokeJoin": "miter"}, "encoding": {"order": {"field": "o", "type": "quantitative"}}},
        {"data": {"name": "fields"}, "mark": {"type": "rule", "color": "#8a8a8a", "strokeWidth": 1.5}, "encoding": {"x2": {"field": "x2"}, "y2": {"field": "y2"}}},
        {"data": {"name": "h_pts"}, "mark": {"type": "circle", "size": 130, "opacity": 1}, "encoding": {"color": {"field": "group", "type": "nominal", "scale": {"domain": ["Ivrea"], "range": ["#111111"]}, "legend": {"title": null, "orient": "none", "legendX": -57.5, "legendY": 2.3, "symbolOpacity": 0, "labelExpr": "'n=18'"}}}},
        {"data": {"name": "labels"}, "mark": {"type": "text", "fontSize": 20, "color": "#222222"}, "encoding": {"text": {"field": "label"}}},
        {"data": {"values": [{"label": "B", "x": 42.6, "y": 5.4}]}, "mark": {"type": "text", "fontSize": 20, "color": "#222222"}, "encoding": {"text": {"field": "label"}}},
        {"data": {"values": [{"x": -12, "x2": 91.6, "y": 113.8}]}, "mark": {"type": "rule", "color": "#222222", "strokeWidth": 1.5}, "encoding": {"x2": {"field": "x2"}}}
      ]
    },
    {
      "width": 352, "height": 304.8,
      "layer": [
        {"data": {"name": "notes1"}, "mark": {"type": "text", "align": "left", "fontSize": 20, "color": "#222222"}, "encoding": {"x": {"field": "indent", "type": "quantitative", "scale": {"domain": [0, 1], "range": [-9.7, 64.8]}, "axis": null}, "y": {"field": "line", "type": "quantitative", "scale": {"domain": [1, 8], "range": [-16.7, 153.3]}, "axis": null}, "text": {"field": "text"}}},
        {"data": {"name": "notes2"}, "mark": {"type": "text", "align": "left", "fontSize": 20, "color": "#222222"}, "encoding": {"x": {"field": "indent", "type": "quantitative", "scale": {"domain": [0, 1], "range": [-9.7, 64.8]}, "axis": null}, "y": {"field": "line", "type": "quantitative", "scale": {"domain": [1, 4], "range": [193.3, 267.3]}, "axis": null}, "text": {"field": "text"}}}
      ],
      "resolve": {"scale": {"y": "independent"}}
    }
  ]
}
